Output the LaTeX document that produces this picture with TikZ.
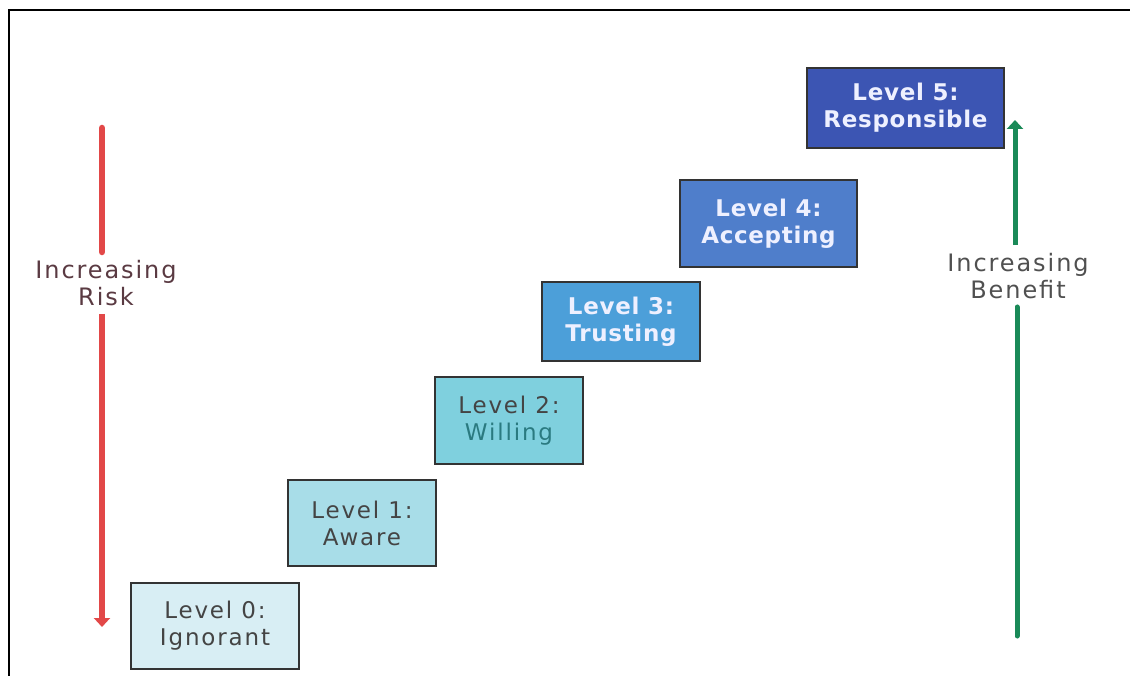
\documentclass[tikz,border=0pt]{standalone}
\usepackage{fontspec}
\usetikzlibrary{arrows.meta}
\newfontfamily\lab[LetterSpace=8]{DejaVu Sans}
\newfontfamily\labb[LetterSpace=3]{DejaVu Sans Bold}
\definecolor{cA}{HTML}{D8EEF4}
\definecolor{cB}{HTML}{A8DDE8}
\definecolor{cC}{HTML}{7FD0DE}
\definecolor{cD}{HTML}{4C9FD9}
\definecolor{cE}{HTML}{4F7ECB}
\definecolor{cF}{HTML}{3C55B3}
\definecolor{bord}{HTML}{333333}
\definecolor{txtg}{HTML}{444444}
\definecolor{teal2}{HTML}{2A7A80}
\definecolor{wtxt}{HTML}{EEF0FF}
\definecolor{riskred}{HTML}{E24848}
\definecolor{riskt}{HTML}{5A3A42}
\definecolor{bengreen}{HTML}{1A8A58}
\definecolor{bent}{HTML}{505050}
\tikzset{
  lvl/.style={draw=bord, line width=2.8pt, align=center, inner sep=0pt,
    font=\lab\fontsize{23}{27}\selectfont, text=txtg},
  lvlb/.style={lvl, font=\labb\fontsize{23}{27}\selectfont, text=wtxt},
  side/.style={align=center, inner sep=8pt, font=\lab\fontsize{24}{27}\selectfont},
  riskline/.style={draw=riskred, line width=6.5pt},
  benline/.style={draw=bengreen, line width=5pt}
}
\begin{document}
\begin{tikzpicture}[x=1pt,y=-1pt]
\useasboundingbox (0,0) rectangle (1130,676);
\draw[line width=2pt, black] (9,676) -- (9,10) -- (1130,10);
% levels
\node[lvl, fill=cA, minimum width=168pt, minimum height=86pt] (l0) at (215,626) {Level 0:\\Ignorant};
\node[lvl, fill=cB, minimum width=148pt, minimum height=86pt] (l1) at (362,523) {Level 1:\\Aware};
\node[lvl, fill=cC, minimum width=148pt, minimum height=87pt] (l2) at (509,420.5) {Level 2:\\\textcolor{teal2}{Willing}};
\node[lvlb, fill=cD, minimum width=158pt, minimum height=79pt] (l3) at (621,321.5) {Level 3:\\Trusting};
\node[lvlb, fill=cE, minimum width=177pt, minimum height=87pt] (l4) at (768.5,223.5) {Level 4:\\Accepting};
\node[lvlb, fill=cF, minimum width=197pt, minimum height=80pt] (l5) at (905.5,108) {Level 5:\\Responsible};
% risk arrow
\node[side, text=riskt] (risk) at (106,283) {Increasing\\Risk};
\coordinate (rtop) at (102,128);
\coordinate (rbot) at (102,627);
\draw[riskline, line cap=round] (rtop) -- (rtop |- risk.north);
\draw[riskline, -{Triangle[width=16pt,length=9pt]}] (rbot |- risk.south) -- (rbot);
% benefit arrow
\node[side, text=bent] (ben) at (1018,276) {Increasing\\Benefit};
\coordinate (gbot) at (1017,636);
\coordinate (gtop) at (1015,120);
\draw[benline, line cap=round] (gbot) -- (gbot |- ben.south);
\draw[benline, -{Triangle[width=16pt,length=9pt]}] (gtop |- ben.north) -- (gtop);
\end{tikzpicture}
\end{document}
